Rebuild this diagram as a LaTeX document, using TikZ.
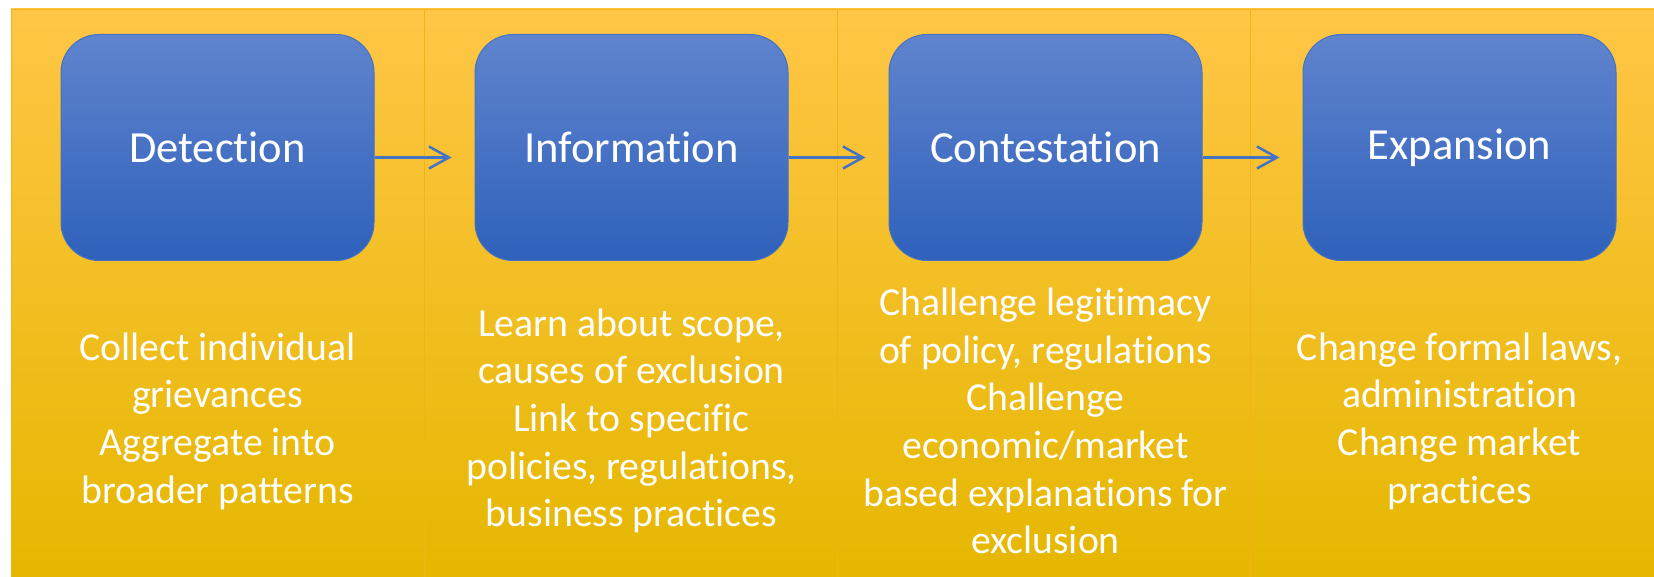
\documentclass[tikz,border=0pt]{standalone}
\usepackage{fontspec}
\setmainfont{Carlito}[Ligatures=NoCommon]
\usetikzlibrary{arrows.meta, positioning, calc}
\definecolor{stageBlueTop}{RGB}{96,132,206}
\definecolor{stageBlueBot}{RGB}{47,97,187}
\definecolor{stageEdge}{RGB}{68,114,196}
\definecolor{panelTop}{RGB}{255,198,70}
\definecolor{panelMid}{RGB}{255,194,0}
\definecolor{panelBot}{RGB}{229,183,0}
\definecolor{panelEdge}{RGB}{242,178,24}
\tikzset{
    flow/.style={x=1pt, y=-1pt, line join=round},
    panel/.style={draw=panelEdge, line width=0.8pt, top color=panelTop,
                  middle color=panelMid, bottom color=panelBot},
    stage/.style={draw=stageEdge, line width=1pt, rounded corners=38pt,
                  top color=stageBlueTop, bottom color=stageBlueBot,
                  minimum width=313pt, minimum height=226pt, text=white,
                  font=\fontsize{44.5}{53}\selectfont},
    note/.style={text=white, align=center,
                 font=\fontsize{39.7}{47.7}\selectfont},
    arrow/.style={-{Straight Barb[length=20pt, width=22pt]}, line width=2.5pt,
                  draw=stageEdge, shorten >=23pt},
}

\begin{document}
\begin{tikzpicture}[flow]

\useasboundingbox[fill=white] (0,0) rectangle (1654,577);
\clip (0,0) rectangle (1654,577);

% ─── Bandeaux de fond ───────────────────────────────────────────────────
\foreach \i in {0,...,3}
    \draw[panel] (11+413*\i,9) rectangle ++(413,570);

% ─── Étapes ─────────────────────────────────────────────────────────────
\node[stage] (detect) at (217.5,147.5) {Detection};
\node[stage, right=100pt of detect] (inform) {Information};
\node[stage, right=100pt of inform] (contest) {Contestation};
\node[stage, right=100pt of contest] (expand) {Expansion};

% ─── Descriptions sous chaque étape ─────────────────────────────────────
\node[note] (detectnote) at ($(detect)+(0,273.5)$)
    {Collect individual\\ grievances\\ Aggregate into\\ broader patterns};
\node[note] (informnote) at ($(inform)+(0,273.5)$)
    {Learn about scope,\\ causes of exclusion\\ Link to specific\\
     policies, regulations,\\ business practices};
\node[note] (contestnote) at ($(contest)+(0,273.5)$)
    {Challenge legitimacy\\ of policy, regulations\\ Challenge\\
     economic/market\\ based explanations for\\ exclusion};
\node[note] (expandnote) at ($(expand)+(0,273.5)$)
    {Change formal laws,\\ administration\\ Change market\\ practices};

% ─── Flèches entre les étapes ───────────────────────────────────────────
\draw[arrow] ([yshift=-10pt]detect.east)  -- ([yshift=-10pt]inform.west);
\draw[arrow] ([yshift=-10pt]inform.east)  -- ([yshift=-10pt]contest.west);
\draw[arrow] ([yshift=-10pt]contest.east) -- ([yshift=-10pt]expand.west);

\end{tikzpicture}
\end{document}
